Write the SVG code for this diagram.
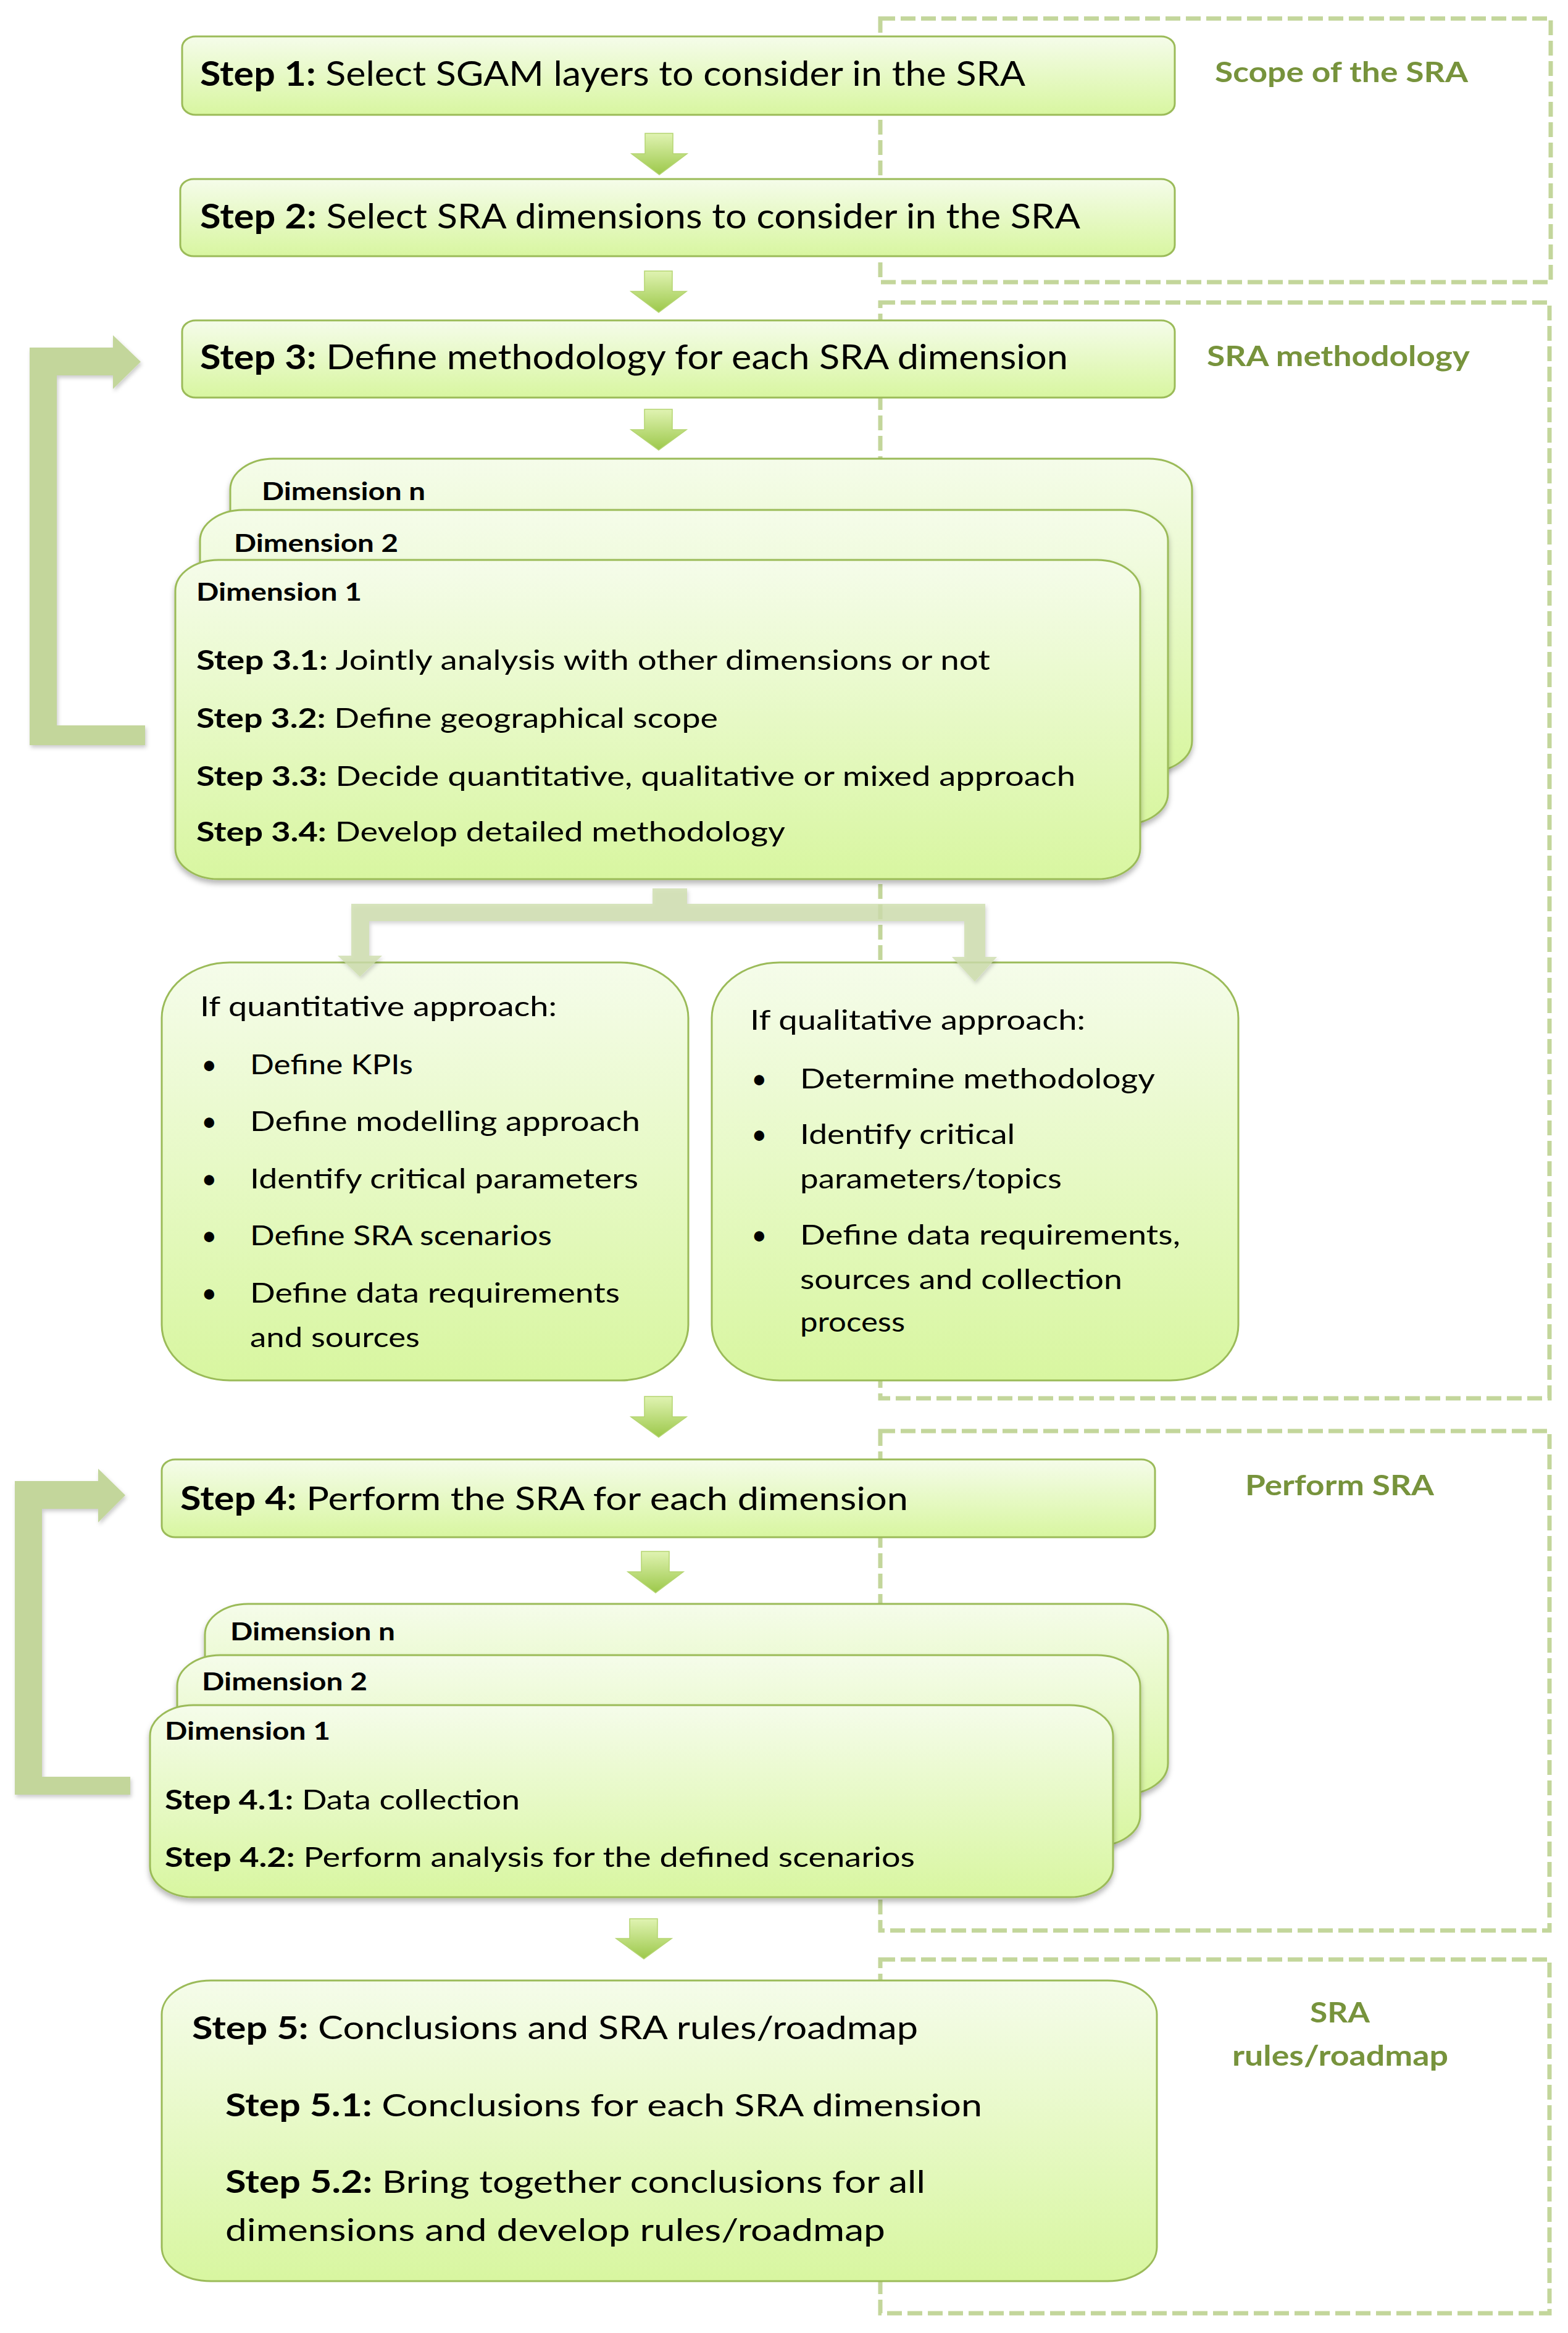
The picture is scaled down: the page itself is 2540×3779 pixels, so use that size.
<svg xmlns="http://www.w3.org/2000/svg" width="2540" height="3779" viewBox="0 0 2540 3779">
<style>
text{font-family:Lato,"Open Sans","Liberation Sans",sans-serif;fill:#000}
.b{font-weight:bold}
.st{font-size:56px}
.sub{font-size:44px}
.dim{font-size:41px;font-weight:bold}
.ttl{font-size:46px;font-weight:bold;fill:#77933C}
.box{fill:url(#gBox);stroke:#9BBB59;stroke-width:3}
.frame{fill:none;stroke:#C3D69B;stroke-width:7;stroke-dasharray:24 9}
.darr{fill:url(#gArr);stroke:#B5D572;stroke-width:1.5}
.loop{fill:#C3D69B}
.split{fill:#CDDDAC;fill-opacity:0.8}
</style>
<defs>
<linearGradient id="gBox" x1="0" y1="0" x2="0" y2="1">
<stop offset="0" stop-color="#F5FCEA"/>
<stop offset="1" stop-color="#D8F6A0"/>
</linearGradient>
<linearGradient id="gArr" x1="0" y1="0" x2="0" y2="1">
<stop offset="0" stop-color="#E0F3B2"/>
<stop offset="1" stop-color="#9CC84A"/>
</linearGradient>
<filter id="sh" x="-10%" y="-10%" width="120%" height="130%">
<feDropShadow dx="0" dy="6" stdDeviation="4" flood-color="#000" flood-opacity="0.28"/>
</filter>
<filter id="sh2" x="-10%" y="-10%" width="120%" height="130%">
<feDropShadow dx="2" dy="4" stdDeviation="3" flood-color="#000" flood-opacity="0.2"/>
</filter>
</defs>
<rect width="2540" height="3779" fill="#fff"/>

<g id="frames">
<rect class="frame" x="1426" y="30" width="1086" height="427"/>
<rect class="frame" x="1426" y="490" width="1084" height="1775"/>
<rect class="frame" x="1426" y="2318" width="1084" height="809"/>
<rect class="frame" x="1426" y="3174" width="1084" height="573"/>
<text class="ttl" x="1968" y="133" textLength="410" lengthAdjust="spacingAndGlyphs">Scope of the SRA</text>
<text class="ttl" x="1955" y="593" textLength="426" lengthAdjust="spacingAndGlyphs">SRA methodology</text>
<text class="ttl" x="2017" y="2422" textLength="306" lengthAdjust="spacingAndGlyphs">Perform SRA</text>
<text class="ttl" x="2122" y="3276" textLength="97" lengthAdjust="spacingAndGlyphs">SRA</text>
<text class="ttl" x="1996" y="3346" textLength="350" lengthAdjust="spacingAndGlyphs">rules/roadmap</text>
</g>

<g id="step1">
<rect class="box" x="295" y="59" width="1608" height="127" rx="22" ry="18"/>
<text class="st" x="324" y="139" textLength="1337" lengthAdjust="spacingAndGlyphs"><tspan class="b">Step 1:</tspan> Select SGAM layers to consider  in the SRA</text>
</g>
<g id="step2">
<rect class="box" x="292" y="290" width="1611" height="125" rx="22" ry="18"/>
<text class="st" x="324" y="370" textLength="1426" lengthAdjust="spacingAndGlyphs"><tspan class="b">Step 2:</tspan> Select SRA dimensions to consider  in the SRA</text>
</g>
<g id="step3">
<rect class="box" x="295" y="519" width="1608" height="125" rx="22" ry="18"/>
<text class="st" x="324" y="598" textLength="1406" lengthAdjust="spacingAndGlyphs"><tspan class="b">Step 3:</tspan> Define methodology for each SRA dimension</text>
</g>

<g id="dims3">
<rect class="box" filter="url(#sh)" x="373" y="743" width="1558" height="507" rx="70" ry="50"/>
<text class="dim" x="424" y="810" textLength="265" lengthAdjust="spacingAndGlyphs">Dimension n</text>
<rect class="box" filter="url(#sh)" x="324" y="826" width="1568" height="509" rx="70" ry="50"/>
<text class="dim" x="379" y="894" textLength="266" lengthAdjust="spacingAndGlyphs">Dimension 2</text>
<rect class="box" filter="url(#sh)" x="284" y="907" width="1563" height="517" rx="70" ry="50"/>
<text class="dim" x="318" y="973" textLength="268" lengthAdjust="spacingAndGlyphs">Dimension 1</text>
<text class="sub" x="318" y="1085" textLength="1286" lengthAdjust="spacingAndGlyphs"><tspan class="b">Step 3.1:</tspan> Jointly analysis with other dimensions or not</text>
<text class="sub" x="318" y="1179" textLength="845" lengthAdjust="spacingAndGlyphs"><tspan class="b">Step 3.2:</tspan> Define geographical scope</text>
<text class="sub" x="318" y="1273" textLength="1424" lengthAdjust="spacingAndGlyphs"><tspan class="b">Step 3.3:</tspan> Decide quantitative, qualitative or mixed approach</text>
<text class="sub" x="318" y="1363" textLength="954" lengthAdjust="spacingAndGlyphs"><tspan class="b">Step 3.4:</tspan> Develop detailed methodology</text>
</g>

<g id="quant">
<rect class="box" x="262" y="1559" width="853" height="677" rx="110" ry="90"/>
<text class="sub" x="324" y="1646" textLength="578" lengthAdjust="spacingAndGlyphs">If quantitative approach:</text>
<text class="sub" x="326" y="1740">•</text>
<text class="sub" x="405" y="1740" textLength="264" lengthAdjust="spacingAndGlyphs">Define KPIs</text>
<text class="sub" x="326" y="1832">•</text>
<text class="sub" x="405" y="1832" textLength="632" lengthAdjust="spacingAndGlyphs">Define modelling approach</text>
<text class="sub" x="326" y="1925">•</text>
<text class="sub" x="405" y="1925" textLength="629" lengthAdjust="spacingAndGlyphs">Identify critical parameters</text>
<text class="sub" x="326" y="2017">•</text>
<text class="sub" x="405" y="2017" textLength="489" lengthAdjust="spacingAndGlyphs">Define SRA scenarios</text>
<text class="sub" x="326" y="2110">•</text>
<text class="sub" x="405" y="2110" textLength="599" lengthAdjust="spacingAndGlyphs">Define data requirements</text>
<text class="sub" x="405" y="2182" textLength="275" lengthAdjust="spacingAndGlyphs">and sources</text>
</g>

<g id="qual">
<rect class="box" x="1153" y="1559" width="853" height="677" rx="110" ry="90"/>
<text class="sub" x="1215" y="1668" textLength="543" lengthAdjust="spacingAndGlyphs">If qualitative approach:</text>
<text class="sub" x="1217" y="1763">•</text>
<text class="sub" x="1296" y="1763" textLength="575" lengthAdjust="spacingAndGlyphs">Determine methodology</text>
<text class="sub" x="1217" y="1853">•</text>
<text class="sub" x="1296" y="1853" textLength="348" lengthAdjust="spacingAndGlyphs">Identify critical</text>
<text class="sub" x="1296" y="1925" textLength="424" lengthAdjust="spacingAndGlyphs">parameters/topics</text>
<text class="sub" x="1217" y="2016">•</text>
<text class="sub" x="1296" y="2016" textLength="616" lengthAdjust="spacingAndGlyphs">Define data requirements,</text>
<text class="sub" x="1296" y="2088" textLength="522" lengthAdjust="spacingAndGlyphs">sources and collection</text>
<text class="sub" x="1296" y="2157" textLength="170" lengthAdjust="spacingAndGlyphs">process</text>
</g>

<g id="step4">
<rect class="box" x="262" y="2364" width="1609" height="126" rx="22" ry="18"/>
<text class="st" x="292" y="2446" textLength="1179" lengthAdjust="spacingAndGlyphs" style="font-size:53px"><tspan class="b">Step 4:</tspan> Perform the SRA for each dimension</text>
</g>

<g id="dims4">
<rect class="box" filter="url(#sh)" x="332" y="2598" width="1560" height="308" rx="70" ry="50"/>
<text class="dim" x="373" y="2657" textLength="267" lengthAdjust="spacingAndGlyphs">Dimension n</text>
<rect class="box" filter="url(#sh)" x="287" y="2681" width="1560" height="309" rx="70" ry="50"/>
<text class="dim" x="327" y="2738" textLength="268" lengthAdjust="spacingAndGlyphs">Dimension 2</text>
<rect class="box" filter="url(#sh)" x="243" y="2762" width="1560" height="311" rx="70" ry="50"/>
<text class="dim" x="267" y="2818" textLength="268" lengthAdjust="spacingAndGlyphs">Dimension 1</text>
<text class="sub" x="267" y="2931" textLength="575" lengthAdjust="spacingAndGlyphs"><tspan class="b">Step 4.1:</tspan> Data collection</text>
<text class="sub" x="267" y="3024" textLength="1215" lengthAdjust="spacingAndGlyphs"><tspan class="b">Step 4.2:</tspan> Perform analysis for the defined scenarios</text>
</g>

<g id="step5">
<rect class="box" x="262" y="3208" width="1612" height="487" rx="80" ry="55"/>
<text class="st" x="311" y="3303" textLength="1176" lengthAdjust="spacingAndGlyphs" style="font-size:52px"><tspan class="b">Step 5:</tspan> Conclusions and SRA rules/roadmap</text>
<text class="st" x="365" y="3428" textLength="1226" lengthAdjust="spacingAndGlyphs" style="font-size:51px"><tspan class="b">Step 5.1:</tspan> Conclusions for each SRA dimension</text>
<text class="st" x="365" y="3552" textLength="1134" lengthAdjust="spacingAndGlyphs" style="font-size:51px"><tspan class="b">Step 5.2:</tspan> Bring together conclusions for all</text>
<text class="st" x="365" y="3630" textLength="1069" lengthAdjust="spacingAndGlyphs" style="font-size:51px">dimensions and develop rules/roadmap</text>
</g>

<g id="connectors">
<path class="darr" d="M1045,216 H1090 V249 H1113 L1068,283 L1023,249 H1045 Z"/>
<path class="darr" d="M1044,439 H1089 V472 H1112 L1067,506 L1022,472 H1044 Z"/>
<path class="darr" d="M1044,663 H1089 V696 H1112 L1067,729 L1022,696 H1044 Z"/>
<path class="darr" d="M1044,2262 H1089 V2295 H1112 L1067,2328 L1022,2295 H1044 Z"/>
<path class="darr" d="M1039,2513 H1084 V2546 H1107 L1062,2580 L1017,2546 H1039 Z"/>
<path class="darr" d="M1020,3108 H1065 V3140 H1088 L1043,3173 L998,3140 H1020 Z"/>
<path class="loop" filter="url(#sh2)" d="M48,563 H183 V543 L228,586 L183,630 V608 H92 V1175 H235 V1207 H48 Z"/>
<path class="loop" filter="url(#sh2)" d="M24,2399 H159 V2379 L203,2422 L159,2466 V2444 H68 V2878 H211 V2907 H24 Z"/>
<path class="split" filter="url(#sh2)" d="M1057,1439 H1113 V1464 H1596 V1550 H1615 L1579,1590 L1542,1550 H1562 V1492 H598 V1548 H619 L583,1582 L547,1548 H569 V1464 H1057 Z"/>
</g>
</svg>
